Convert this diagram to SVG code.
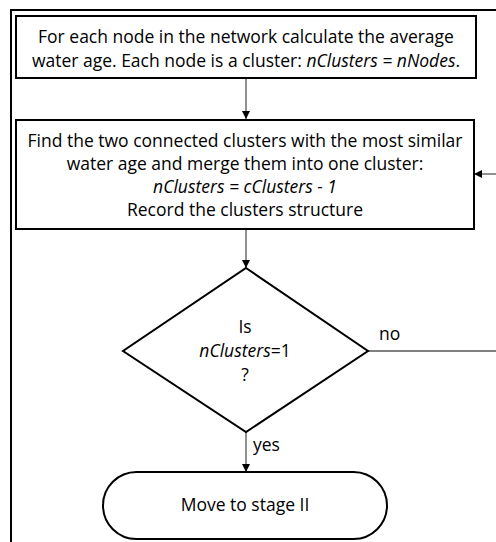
<svg xmlns="http://www.w3.org/2000/svg" width="496" height="542" viewBox="0 0 496 542">
  <style>
    .box { fill: #ffffff; stroke: #000000; stroke-width: 2; }
    .frame { fill: none; stroke: #000000; stroke-width: 2; }
    .conn { fill: none; stroke: #222222; stroke-width: 1; }
    .label { font-family: "Open Sans", "Liberation Sans", sans-serif; font-size: 17.5px; fill: #000000; }
    .mid { text-anchor: middle; }
    .it { font-style: italic; }
  </style>
  <defs>
    <marker id="arrow" viewBox="0 0 10 10" refX="10" refY="5" markerWidth="8" markerHeight="8" markerUnits="userSpaceOnUse" orient="auto">
      <path d="M0,0 L10,5 L0,10 Z" fill="#000000"/>
    </marker>
  </defs>

  <rect width="496" height="542" fill="#ffffff"/>

  <!-- outer frame (top and left edges) -->
  <path class="frame" d="M496,10 H11 V542"/>

  <g id="connectors">
    <line class="conn" x1="246" y1="78" x2="246" y2="119" marker-end="url(#arrow)"/>
    <line class="conn" x1="246" y1="229" x2="246" y2="268" marker-end="url(#arrow)"/>
    <line class="conn" x1="246" y1="432" x2="246" y2="472" marker-end="url(#arrow)"/>
    <line class="conn" x1="368" y1="351" x2="496" y2="351" style="stroke:#555555;stroke-width:1.4"/>
    <line class="conn" x1="496" y1="174" x2="474" y2="174" marker-end="url(#arrow)"/>
    <text class="label" x="379" y="340">no</text>
    <text class="label" x="253" y="451">yes</text>
  </g>

  <g id="init">
    <rect class="box" x="16" y="16" width="460" height="62"/>
    <text class="label mid" x="246" y="43">For each node in the network calculate the average</text>
    <text class="label mid" x="246" y="67">water age. Each node is a cluster: <tspan class="it">nClusters = nNodes</tspan>.</text>
  </g>

  <g id="merge">
    <rect class="box" x="16" y="120" width="458" height="109"/>
    <text class="label mid" x="245" y="147">Find the two connected clusters with the most similar</text>
    <text class="label mid" x="245" y="170">water age and merge them into one cluster:</text>
    <text class="label mid it" x="245" y="193">nClusters = cClusters - 1</text>
    <text class="label mid" x="245" y="216">Record the clusters structure</text>
  </g>

  <g id="decision">
    <polygon class="box" points="246,268 368,351 246,432 123,351"/>
    <text class="label mid" x="245" y="333">Is</text>
    <text class="label mid" x="245" y="357"><tspan class="it">nClusters</tspan>=1</text>
    <text class="label mid" x="245" y="381">?</text>
  </g>

  <g id="stage2">
    <rect class="box" x="103" y="472" width="284" height="67" rx="33.5" ry="33.5"/>
    <text class="label mid" x="245" y="511">Move to stage II</text>
  </g>
</svg>
